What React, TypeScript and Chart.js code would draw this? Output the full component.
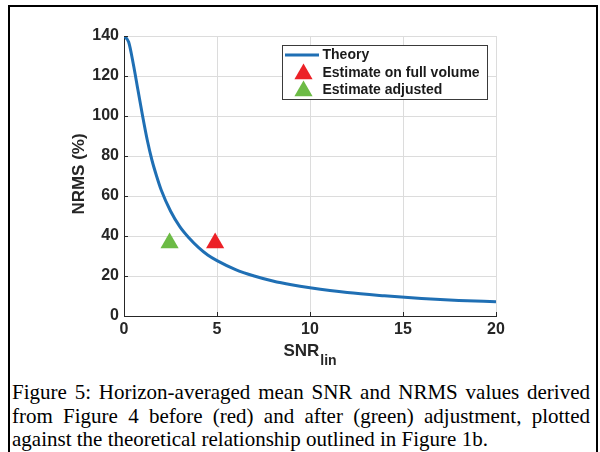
import React, { useEffect, useRef } from "react";
import { Chart, registerables } from "chart.js";

Chart.register(...registerables);

// Theory curve
const theorySnr = [0, 0.25, 0.5, 0.75, 1, 1.25, 1.5, 1.75, 2, 2.5, 3, 3.5, 4, 4.5, 5, 6, 7, 8, 9, 10, 12, 14, 16, 18, 20];
const theoryNrms = [140, 137, 126, 113, 100, 88, 78, 70, 63, 52.5, 44.7, 39, 34.3, 30.5, 27.7, 23.2, 20, 17.5, 15.6, 14.1, 11.7, 10.1, 8.8, 7.8, 7.1];

// Estimates
const fullSnr = [4.9];
const fullNrms = [36.5];
const adjSnr = [2.45];
const adjNrms = [36.5];

const legendLabels = ["Theory", "Estimate on full volume", "Estimate adjusted"];
const xTickStep = 5;
const yTickStep = 20;

const BLUE = "#1f6fb4";
const RED = "#ec2127";
const GREEN = "#6cbb45";
const AXIS = "#262626";
const FONT = "'Liberation Sans', Arial, sans-serif";

const decor = {
  id: "decor",
  afterDraw(chart: any) {
    const { ctx, chartArea } = chart;
    const xs = chart.scales.x;
    const ys = chart.scales.y;
    ctx.save();
    // inward ticks
    ctx.strokeStyle = AXIS;
    ctx.lineWidth = 1;
    ctx.beginPath();
    xs.ticks.forEach((t: any) => {
      const px = Math.round(xs.getPixelForValue(t.value)) + 0.5;
      ctx.moveTo(px, chartArea.bottom);
      ctx.lineTo(px, chartArea.bottom - 4);
    });
    ys.ticks.forEach((t: any) => {
      const py = Math.round(ys.getPixelForValue(t.value)) + 0.5;
      ctx.moveTo(chartArea.left, py);
      ctx.lineTo(chartArea.left + 4, py);
    });
    ctx.stroke();

    // y title
    ctx.fillStyle = AXIS;
    ctx.font = `bold 17px ${FONT}`;
    ctx.textAlign = "center";
    ctx.textBaseline = "middle";
    ctx.save();
    ctx.translate(79, (chartArea.top + chartArea.bottom) / 2 - 2);
    ctx.rotate(-Math.PI / 2);
    ctx.fillText("NRMS (%)", 0, 0);
    ctx.restore();

    // x title with subscript
    ctx.textAlign = "left";
    ctx.textBaseline = "alphabetic";
    ctx.font = `bold 17px ${FONT}`;
    const w1 = ctx.measureText("SNR").width;
    ctx.font = `bold 14px ${FONT}`;
    const w2 = ctx.measureText("lin").width;
    const cx = (chartArea.left + chartArea.right) / 2;
    const x0 = cx - (w1 + 1 + w2) / 2;
    ctx.font = `bold 17px ${FONT}`;
    ctx.fillText("SNR", x0, chartArea.bottom + 40);
    ctx.font = `bold 14px ${FONT}`;
    ctx.fillText("lin", x0 + w1 + 1, chartArea.bottom + 49);

    // legend box
    const lx = 282.5, ly = 45.5, lw = 205, lh = 54;
    ctx.fillStyle = "#ffffff";
    ctx.fillRect(lx, ly, lw, lh);
    ctx.strokeStyle = "#3a3a3a";
    ctx.lineWidth = 1;
    ctx.strokeRect(lx, ly, lw, lh);
    const rows = [55, 72.5, 89.5];
    const colors = [BLUE, RED, GREEN];
    ctx.font = `bold 14px ${FONT}`;
    ctx.textBaseline = "middle";
    legendLabels.forEach((lab, i) => {
      const ry = rows[i];
      if (i === 0) {
        ctx.strokeStyle = BLUE;
        ctx.lineWidth = 3;
        ctx.beginPath();
        ctx.moveTo(285, ry);
        ctx.lineTo(319, ry);
        ctx.stroke();
      } else {
        const r = 10.5;
        const tx = 303.5, ty = ry + 1.5;
        ctx.fillStyle = colors[i];
        ctx.beginPath();
        ctx.moveTo(tx, ty - r);
        ctx.lineTo(tx + r * 0.866, ty + r / 2);
        ctx.lineTo(tx - r * 0.866, ty + r / 2);
        ctx.closePath();
        ctx.fill();
      }
      ctx.fillStyle = "#1a1a1a";
      ctx.fillText(lab, 322.5, ry + 0.5);
    });
    ctx.restore();
  },
};

function ChartView() {
  const ref = useRef<HTMLCanvasElement>(null);
  useEffect(() => {
    if (!ref.current) return;
    const chart = new Chart(ref.current, {
      type: "scatter",
      data: {
        datasets: [
          {
            label: legendLabels[0],
            data: theorySnr.map((x, i) => ({ x, y: theoryNrms[i] })),
            showLine: true,
            borderColor: BLUE,
            borderWidth: 3,
            pointRadius: 0,
            cubicInterpolationMode: "monotone",
            order: 3,
          } as any,
          {
            label: legendLabels[1],
            data: fullSnr.map((x, i) => ({ x, y: fullNrms[i] })),
            pointStyle: "triangle",
            pointRadius: 10.5,
            backgroundColor: RED,
            borderColor: RED,
            borderWidth: 0,
            order: 1,
          },
          {
            label: legendLabels[2],
            data: adjSnr.map((x, i) => ({ x, y: adjNrms[i] })),
            pointStyle: "triangle",
            pointRadius: 10.5,
            backgroundColor: GREEN,
            borderColor: GREEN,
            borderWidth: 0,
            order: 2,
          },
        ],
      },
      options: {
        animation: false,
        responsive: false,
        devicePixelRatio: 1,
        layout: { padding: { left: 0, top: 36, right: 104, bottom: 0 } },
        plugins: { legend: { display: false }, tooltip: { enabled: false } },
        scales: {
          x: {
            type: "linear",
            min: 0,
            max: 20,
            ticks: {
              stepSize: xTickStep,
              padding: 4,
              color: AXIS,
              font: { family: FONT, size: 16, weight: "bold" },
            },
            grid: { color: "#dcdcdc", lineWidth: 1, drawTicks: false },
            border: { display: true, color: AXIS, width: 1 },
            afterFit: (s: any) => {
              s.height = 64;
            },
          },
          y: {
            type: "linear",
            min: 0,
            max: 140,
            ticks: {
              stepSize: yTickStep,
              padding: 5,
              color: AXIS,
              font: { family: FONT, size: 16, weight: "bold" },
            },
            grid: { color: "#dcdcdc", lineWidth: 1, drawTicks: false },
            border: { display: true, color: AXIS, width: 1 },
            afterFit: (s: any) => {
              s.width = 124;
            },
          },
        },
      },
      plugins: [decor],
    });
    return () => chart.destroy();
  }, []);
  return (
    <canvas
      ref={ref}
      width={600}
      height={380}
      style={{ position: "absolute", left: 0, top: 0, width: 600, height: 380 }}
    />
  );
}

export default function App() {
  return (
    <div
      style={{
        position: "absolute",
        left: 0,
        top: 0,
        width: 600,
        height: 452,
        overflow: "hidden",
        background: "#ffffff",
      }}
    >
      <div
        style={{
          position: "absolute",
          left: 8,
          top: 5,
          width: 586,
          height: 470,
          border: "2px solid #000",
        }}
      />
      <ChartView />
      <div
        style={{
          position: "absolute",
          left: 12,
          top: 381,
          width: 578,
          fontFamily: "'Liberation Serif', 'Times New Roman', serif",
          fontSize: 21,
          lineHeight: "23.5px",
          textAlign: "justify",
          color: "#000",
        }}
      >
        Figure 5: Horizon-averaged mean SNR and NRMS values derived from Figure 4 before (red) and after
        (green) adjustment, plotted against the theoretical relationship outlined in Figure 1b.
      </div>
    </div>
  );
}
